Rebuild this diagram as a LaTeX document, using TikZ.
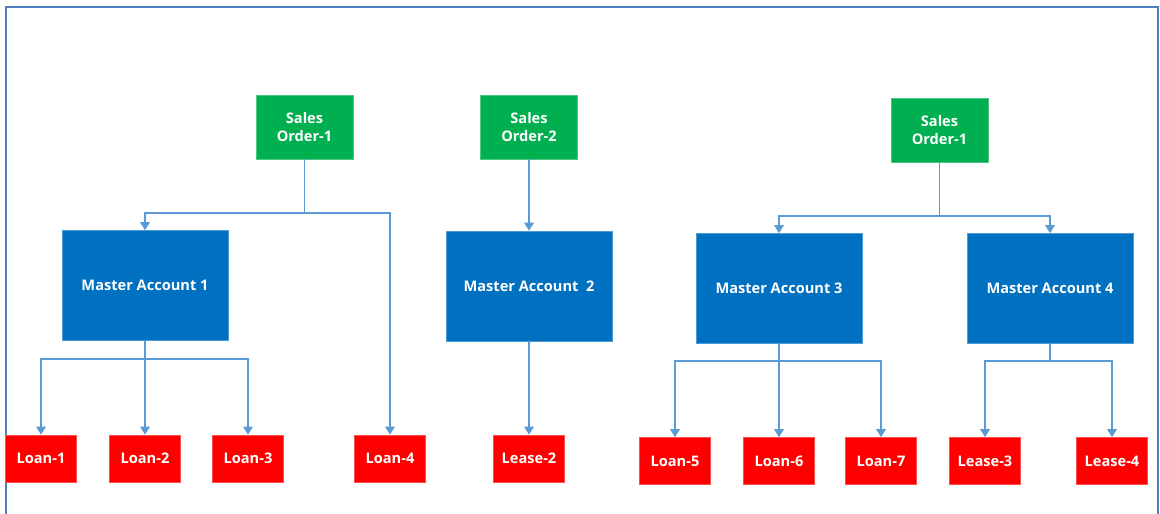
\documentclass[tikz,border=0pt]{standalone}
\usepackage{fontspec}
\setmainfont{Open Sans}
\usetikzlibrary{arrows.meta}
\definecolor{ordergreen}{HTML}{00B050}
\definecolor{acctblue}{HTML}{0070C0}
\definecolor{itemred}{HTML}{FF0000}
\definecolor{linkblue}{HTML}{5B9BD5}
\definecolor{framecol}{HTML}{4F81BD}
\tikzset{
  box/.style={rectangle, inner sep=0pt, text=white, font=\bfseries\fontsize{14.6}{18}\selectfont, align=center},
  orderbox/.style={box, fill=ordergreen, draw=ordergreen!70!white, line width=0.6pt, minimum width=97pt, minimum height=64pt},
  acctbox/.style={box, fill=acctblue, draw=acctblue!70!white, line width=0.6pt, minimum width=166pt, minimum height=110pt},
  itembox/.style={box, fill=itemred, draw=itemred!70!white, line width=0.6pt, minimum width=71pt, minimum height=47pt},
  conn/.style={draw=linkblue, line width=1.4pt},
  arr/.style={conn, -{Triangle[width=9.5pt,length=8pt]}}
}
\begin{document}
\begin{tikzpicture}[x=1pt, y=-1pt]
\useasboundingbox (0,0) rectangle (1160,514);
% outer frame (open at the bottom edge)
\draw[framecol, line width=2pt] (6,514) -- (6,7) -- (1158,7) -- (1158,514);

% sales orders
\node[orderbox] (so1) at (304.5,127) {Sales\\Order-1};
\node[orderbox] (so2) at (529,127) {Sales\\Order-2};
\node[orderbox] (so3) at (939.5,130) {Sales\\Order-1};

% master accounts
\node[acctbox] (ma1) at (145,285.5) {Master Account 1};
\node[acctbox] (ma2) at (529,286) {Master Account~ 2};
\node[acctbox] (ma3) at (779,288.5) {Master Account 3};
\node[acctbox] (ma4) at (1050,288.5) {Master Account 4};

% loans and leases
\node[itembox] (l1) at (41,458.5) {Loan-1};
\node[itembox] (l2) at (145,458.5) {Loan-2};
\node[itembox] (l3) at (248,458.5) {Loan-3};
\node[itembox] (l4) at (390,458.5) {Loan-4};
\node[itembox] (e2) at (529,458.5) {Lease-2};
\node[itembox] (l5) at (675,461) {Loan-5};
\node[itembox] (l6) at (779,461) {Loan-6};
\node[itembox] (l7) at (881,461) {Loan-7};
\node[itembox] (e3) at (985,461) {Lease-3};
\node[itembox] (e4) at (1112,461) {Lease-4};

% branching points
\coordinate (j1) at (304.5,213);
\coordinate (j3) at (939.5,216);
\coordinate (k1) at (145,359);
\coordinate (k3) at (779,361);
\coordinate (k4) at (1050,361);

% order -> accounts
\draw[conn] (so1.south) -- (j1);
\draw[arr] (j1) -| (ma1.north);
\draw[arr] (j1) -| (l4.north);
\draw[arr] (so2.south) -- (ma2.north);
\draw[conn] (so3.south) -- (j3);
\draw[arr] (j3) -| (ma3.north);
\draw[arr] (j3) -| (ma4.north);

% accounts -> loans / leases
\draw[conn] (ma1.south) -- (k1);
\draw[arr] (k1) -| (l1.north);
\draw[arr] (k1) -- (l2.north);
\draw[arr] (k1) -| (l3.north);
\draw[arr] (ma2.south) -- (e2.north);
\draw[conn] (ma3.south) -- (k3);
\draw[arr] (k3) -| (l5.north);
\draw[arr] (k3) -- (l6.north);
\draw[arr] (k3) -| (l7.north);
\draw[conn] (ma4.south) -- (k4);
\draw[arr] (k4) -| (e3.north);
\draw[arr] (k4) -| (e4.north);
\end{tikzpicture}
\end{document}
